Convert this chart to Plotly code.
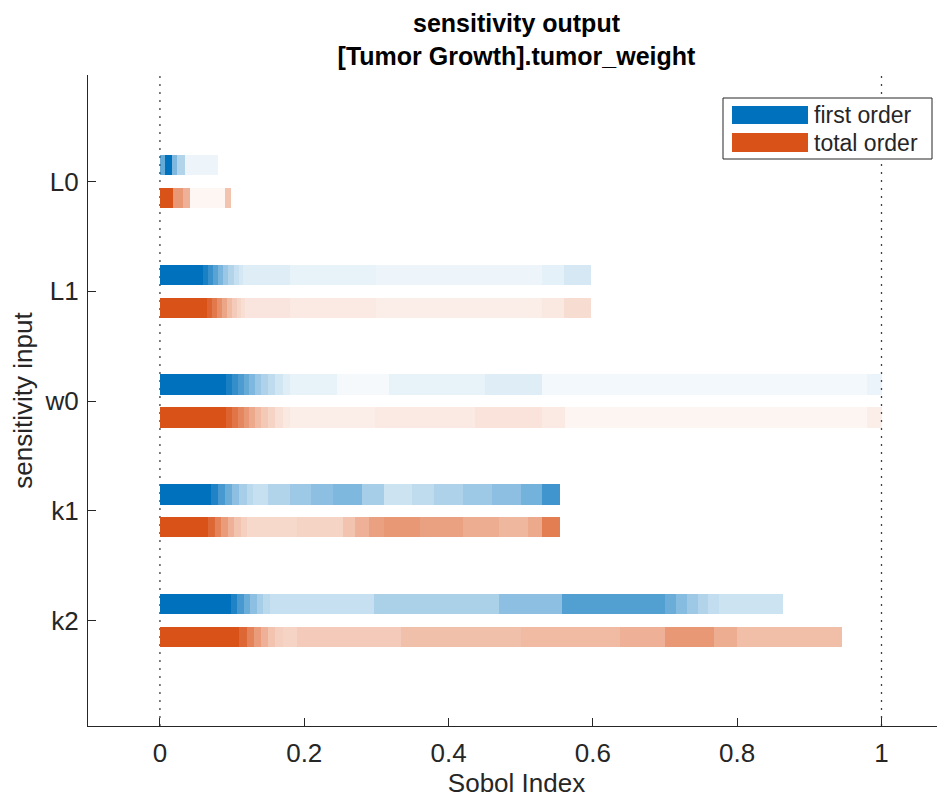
import plotly.graph_objects as go

# ---------------- data ----------------
params = ["L0", "L1", "w0", "k1", "k2"]
x_ticks = [0, 0.2, 0.4, 0.6, 0.8, 1]
x_tick_labels = ["0", "0.2", "0.4", "0.6", "0.8", "1"]

# each bar = consecutive segments [edge_i, edge_i+1] with a shading intensity
L0_first_edges = [0, .007, .017, .024, .035, .080]
L0_first_alpha = [.6, 1, .5, .3, .07]
L0_total_edges = [0, .018, .032, .042, .090, .098]
L0_total_alpha = [1, .6, .45, .05, .35]

L1_first_edges = [0, .06, .067, .074, .081, .088, .095, .102, .109, .115, .18, .30, .53, .56, .597]
L1_first_alpha = [1, .9, .78, .65, .52, .4, .3, .22, .17, .13, .09, .07, .1, .16]
L1_total_edges = [0, .065, .072, .079, .086, .093, .1, .107, .113, .118, .18, .30, .53, .56, .597]
L1_total_alpha = [1, .9, .78, .65, .52, .4, .3, .24, .19, .15, .12, .1, .13, .2]

w0_first_edges = [0, .092, .1, .108, .116, .124, .132, .14, .15, .16, .17, .18, .245, .318, .45, .53, .98, 1.0]
w0_first_alpha = [1, .9, .8, .7, .6, .5, .4, .32, .25, .18, .13, .09, .04, .09, .13, .05, .08]
w0_total_edges = [0, .092, .1, .108, .116, .124, .132, .14, .15, .16, .17, .18, .298, .436, .53, .562, .98, 1.0]
w0_total_alpha = [1, .9, .8, .7, .6, .5, .4, .32, .25, .18, .13, .1, .12, .16, .12, .06, .1]

k1_first_edges = [0, .071, .08, .09, .1, .11, .12, .129, .15, .18, .21, .24, .28, .31, .35, .38, .42, .46, .50, .53, .555]
k1_first_alpha = [1, .88, .72, .58, .45, .35, .27, .22, .3, .38, .45, .5, .35, .2, .25, .32, .38, .45, .55, .75]
k1_total_edges = [0, .067, .076, .085, .094, .103, .112, .12, .19, .254, .27, .29, .31, .36, .42, .47, .51, .53, .555]
k1_total_alpha = [1, .88, .72, .58, .45, .35, .27, .22, .25, .35, .45, .55, .6, .55, .48, .42, .5, .75]

k2_first_edges = [0, .098, .107, .116, .125, .134, .143, .153, .166, .296, .47, .557, .70, .715, .73, .745, .76, .775, .864]
k2_first_alpha = [1, .88, .72, .58, .45, .35, .27, .22, .22, .33, .45, .68, .58, .48, .38, .3, .24, .2]
k2_total_edges = [0, .11, .12, .13, .14, .15, .16, .17, .19, .334, .50, .638, .70, .768, .80, .945]
k2_total_alpha = [1, .88, .72, .58, .45, .35, .28, .25, .3, .37, .4, .45, .6, .48, .38]

first_edges = [L0_first_edges, L1_first_edges, w0_first_edges, k1_first_edges, k2_first_edges]
first_alpha = [L0_first_alpha, L1_first_alpha, w0_first_alpha, k1_first_alpha, k2_first_alpha]
total_edges = [L0_total_edges, L1_total_edges, w0_total_edges, k1_total_edges, k2_total_edges]
total_alpha = [L0_total_alpha, L1_total_alpha, w0_total_alpha, k1_total_alpha, k2_total_alpha]

# ---------------- styling ----------------
BLUE = (0, 114, 189)
ORANGE = (217, 83, 25)
AX = "#262626"
FONT = "Liberation Sans, Arial, sans-serif"

OFF = 8  # page body margin offset
W, H = 945, 802
# window-pixel plot box: left 88, right 945, top 75, bottom 726
ML, MR, MT = 88 - OFF, OFF, 75 - OFF
MB = H - (726 - OFF)

fig = go.Figure()


def add_bar(pos, edges, alphas, rgb, offset):
    bases = edges[:-1]
    widths = [edges[i + 1] - edges[i] for i in range(len(edges) - 1)]
    cols = ["rgba(%d,%d,%d,%.3f)" % (rgb[0], rgb[1], rgb[2], a) for a in alphas]
    fig.add_trace(go.Bar(
        orientation="h",
        y=[pos + offset] * len(widths),
        x=widths,
        base=bases,
        width=0.185,
        marker=dict(color=cols, line=dict(width=0)),
        showlegend=False,
        hoverinfo="skip",
    ))


for i, p in enumerate(params):
    add_bar(i + 1, first_edges[i], first_alpha[i], BLUE, -0.15)
    add_bar(i + 1, total_edges[i], total_alpha[i], ORANGE, 0.15)

# dotted reference lines at 0 and 1
shapes = []
for xv in [0, 1]:
    shapes.append(dict(type="line", xref="x", yref="paper", x0=xv, x1=xv, y0=0, y1=1,
                       line=dict(color="#404040", width=1.3, dash="2px,6px"), layer="below"))

# legend drawn in window-pixel space
pw, ph = W - ML - MR, H - MT - MB


def px(x):
    return (x - OFF - ML) / pw


def py(y):
    return (H - MB - (y - OFF)) / ph


shapes.append(dict(type="rect", xref="paper", yref="paper", x0=px(723), x1=px(932), y0=py(159), y1=py(98),
                   line=dict(color=AX, width=1), fillcolor="white", layer="above"))
shapes.append(dict(type="rect", xref="paper", yref="paper", x0=px(732), x1=px(808), y0=py(124), y1=py(106),
                   line=dict(width=0), fillcolor="rgb(%d,%d,%d)" % BLUE, layer="above"))
shapes.append(dict(type="rect", xref="paper", yref="paper", x0=px(732), x1=px(808), y0=py(152), y1=py(133),
                   line=dict(width=0), fillcolor="rgb(%d,%d,%d)" % ORANGE, layer="above"))

annotations = [
    dict(xref="paper", yref="paper", x=px(812), y=py(115), text="first order", showarrow=False,
         xanchor="left", yanchor="middle", font=dict(family=FONT, size=23, color=AX)),
    dict(xref="paper", yref="paper", x=px(812), y=py(143), text="total order", showarrow=False,
         xanchor="left", yanchor="middle", font=dict(family=FONT, size=23, color=AX)),
]

fig.update_layout(
    width=W, height=H,
    margin=dict(l=ML, r=MR, t=MT, b=MB, autoexpand=False),
    paper_bgcolor="white", plot_bgcolor="white",
    barmode="overlay", bargap=0,
    font=dict(family=FONT, size=26, color=AX),
    title=dict(text="<b>sensitivity output<br>[Tumor Growth].tumor_weight</b>",
               x=(ML + (W - MR)) / 2 / W, xanchor="center", y=1 - (32 - OFF) / H, yanchor="middle",
               font=dict(family=FONT, size=25, color="#000000")),
    xaxis=dict(range=[-0.0997, 1.088], tickvals=x_ticks, ticktext=x_tick_labels,
               showline=True, linecolor=AX, linewidth=1.3, ticks="inside", ticklen=8,
               tickcolor=AX, showgrid=False, zeroline=False, mirror=False,
               ticklabelstandoff=4, automargin=False,
               title=dict(text="Sobol Index", font=dict(size=26, color=AX), standoff=0),
               tickfont=dict(size=26, color=AX)),
    yaxis=dict(range=[5.96, 0.03], tickvals=[1, 2, 3, 4, 5], ticktext=params,
               showline=True, linecolor=AX, linewidth=1.3, ticks="inside", ticklen=8,
               tickcolor=AX, showgrid=False, zeroline=False,
               ticklabelstandoff=3, automargin=False,
               title=dict(text="sensitivity input", font=dict(size=26, color=AX), standoff=16),
               tickfont=dict(size=26, color=AX)),
    shapes=shapes,
    annotations=annotations,
)

fig.write_html("out.html")
